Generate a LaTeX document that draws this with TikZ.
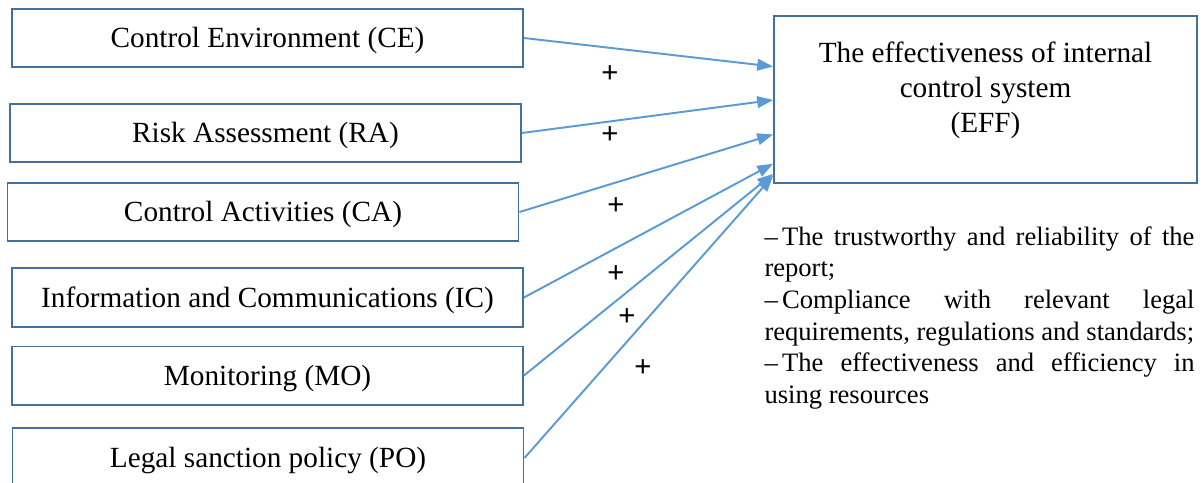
\documentclass[tikz,border=0pt]{standalone}
\usepackage{fontspec}
\setmainfont{Liberation Serif}
\newfontfamily\plusfont{Liberation Sans}
\usetikzlibrary{arrows.meta}
\usetikzlibrary{calc}
\definecolor{boxblue}{HTML}{41719C}
\definecolor{linkblue}{HTML}{5B9BD5}
\tikzstyle{fac}=[shape=rectangle,draw=boxblue,line width=0.8pt,inner sep=0pt,minimum width=209.5pt,minimum height=23.8pt,text height=9.5pt,text depth=1.5pt,font=\fontsize{12}{14}\selectfont]
\tikzstyle{link}=[draw=linkblue,line width=0.8pt,-{Triangle[length=6.5pt,width=4.8pt]}]
\tikzstyle{sgn}=[font=\plusfont\fontsize{12}{14}\selectfont,inner sep=0pt]

\begin{document}
\begin{tikzpicture}[x=0.41pt,y=-0.41pt]
		\useasboundingbox (0,0) rectangle (1203,483);
		\node[fac] (ce) at (267.5,38) {Control Environment (CE)};
		\node[fac] (ra) at (265.5,133) {Risk Assessment (RA)};
		\node[fac] (ca) at (263,212) {Control Activities (CA)};
		\node[fac] (ic) at (267.5,297.5) {Information and Communications (IC)};
		\node[fac] (mo) at (267.5,375.5) {Monitoring (MO)};
		\node[fac,minimum height=24.6pt] (po) at (268,458) {Legal sanction policy (PO)};
		\node[fac,minimum width=173.4pt,minimum height=68.5pt] (eff) at (985.5,99.5) {};
		\node[align=center,inner sep=0pt,font=\fontsize{12}{14.35}\selectfont] (efftxt) at (985.5,90) 
		{The effectiveness of internal\\control system\\(EFF)};
		\node[anchor=north west,text width=176.3pt,align=justify,inner sep=0pt,
		font=\fontsize{10.9}{12.96}\selectfont] (goals) at (764,226) 
		{--\,The trustworthy and reliability of the\linebreak report;\\
		--\,Compliance with relevant legal\linebreak requirements, regulations and standards;\\
		--\,The effectiveness and efficiency in\linebreak using resources};
%
		\draw[link] (ce.east) -- ($(eff.north west)!0.305!(eff.south west)$);
		\draw[link] (ra.east) -- ($(eff.north west)!0.503!(eff.south west)$);
		\draw[link] (ca.east) -- ($(eff.north west)!0.707!(eff.south west)$);
		\draw[link] (ic.east) -- ($(eff.north west)!0.88!(eff.south west)$);
		\draw[link] (mo.east) -- ($(eff.north west)!0.94!(eff.south west)$);
		\draw[link] (po.east) -- ($(eff.north west)!0.952!(eff.south west)$);
%
		\node[sgn] (s1) at (610,74) {+};
		\node[sgn] (s2) at (610,135) {+};
		\node[sgn] (s3) at (616,206) {+};
		\node[sgn] (s4) at (616,274) {+};
		\node[sgn] (s5) at (627,317) {+};
		\node[sgn] (s6) at (643,368) {+};
\end{tikzpicture}
\end{document}
